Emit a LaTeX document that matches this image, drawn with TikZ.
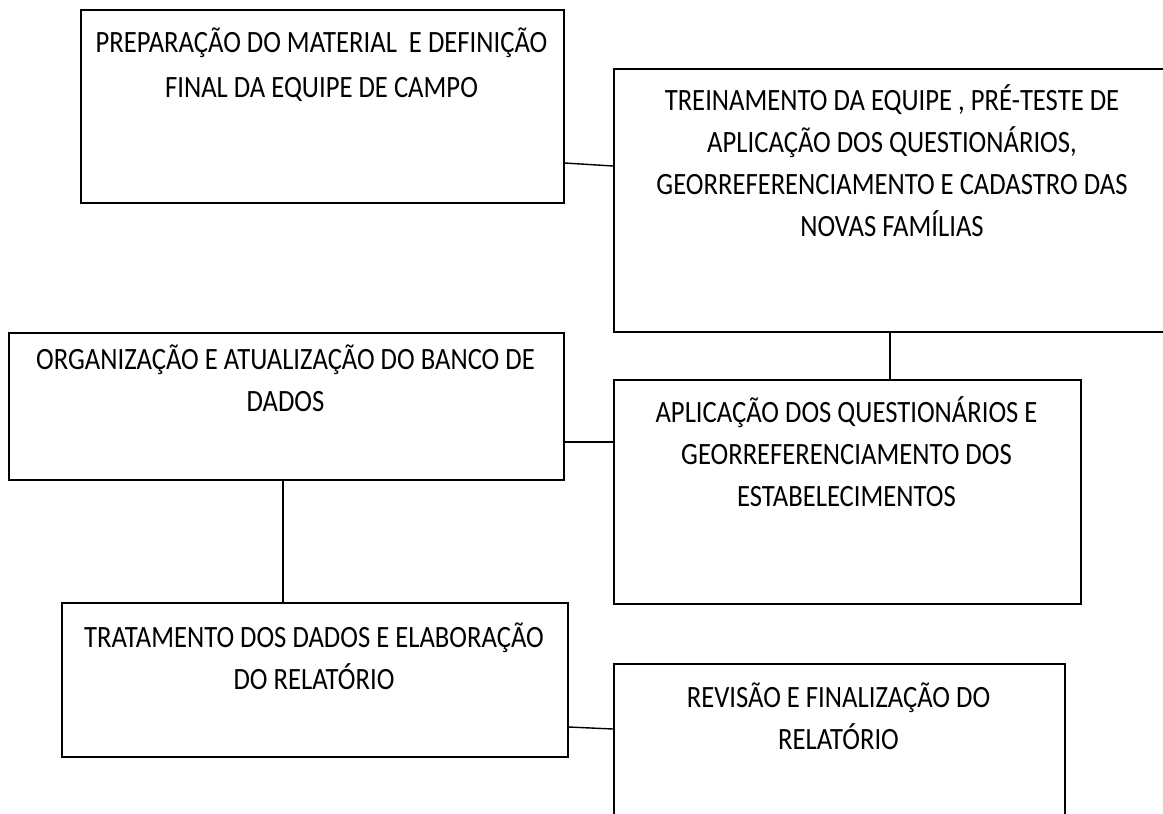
\documentclass[tikz,border=0pt]{standalone}
\usepackage{fontspec}
\setmainfont[FakeStretch=0.86]{Carlito}
\begin{document}
\begin{tikzpicture}[x=1pt,y=-1pt,
  box/.style={draw=black, line width=1.6pt, rectangle, anchor=north west, inner sep=0pt},
  lbl/.style={align=center, anchor=base, inner sep=0pt, font=\fontsize{31}{42}\selectfont},
  link/.style={draw=black, line width=1.4pt}]
\clip (0,0) rectangle (1163,814);
% boxes
\node[box, minimum width=483pt, minimum height=193pt] (A) at (80,9) {};
\node[box, minimum width=558pt, minimum height=263pt] (B) at (613,68) {};
\node[box, minimum width=555pt, minimum height=147pt] (C) at (8,332) {};
\node[box, minimum width=467pt, minimum height=224pt] (D) at (613,379) {};
\node[box, minimum width=506pt, minimum height=154pt] (E) at (61,602) {};
\node[box, minimum width=451pt, minimum height=200pt] (F) at (613,663) {};
% labels (anchored at the baseline of their last line)
\node[lbl, font=\fontsize{31}{45}\selectfont] (At) at (321.5,97) {PREPARAÇÃO DO MATERIAL~ E DEFINIÇÃO\\FINAL DA EQUIPE DE CAMPO};
\node[lbl] (Bt) at (892,236) {TREINAMENTO DA EQUIPE , PRÉ-TESTE DE\\APLICAÇÃO DOS QUESTIONÁRIOS,\\GEORREFERENCIAMENTO E CADASTRO DAS\\NOVAS FAMÍLIAS};
\node[lbl] (Ct) at (285.5,411) {ORGANIZAÇÃO E ATUALIZAÇÃO DO BANCO DE\\DADOS};
\node[lbl] (Dt) at (846.5,506) {APLICAÇÃO DOS QUESTIONÁRIOS E\\GEORREFERENCIAMENTO DOS\\ESTABELECIMENTOS};
\node[lbl] (Et) at (314,689) {TRATAMENTO DOS DADOS E ELABORAÇÃO\\DO RELATÓRIO};
\node[lbl] (Ft) at (838.5,749) {REVISÃO E FINALIZAÇÃO DO\\RELATÓRIO};
% connector helpers
\coordinate (ab1) at (0,163);
\coordinate (ab2) at (0,166);
\coordinate (bd) at (890,0);
\coordinate (cd) at (0,442);
\coordinate (ce) at (283,0);
\coordinate (ef1) at (0,727);
\coordinate (ef2) at (0,729);
% connectors
\draw[link] (A.east |- ab1) -- (B.west |- ab2);
\draw[link] (B.south -| bd) -- (D.north -| bd);
\draw[link] (C.east |- cd) -- (D.west |- cd);
\draw[link] (C.south -| ce) -- (E.north -| ce);
\draw[link] (E.east |- ef1) -- (F.west |- ef2);
\end{tikzpicture}
\end{document}
